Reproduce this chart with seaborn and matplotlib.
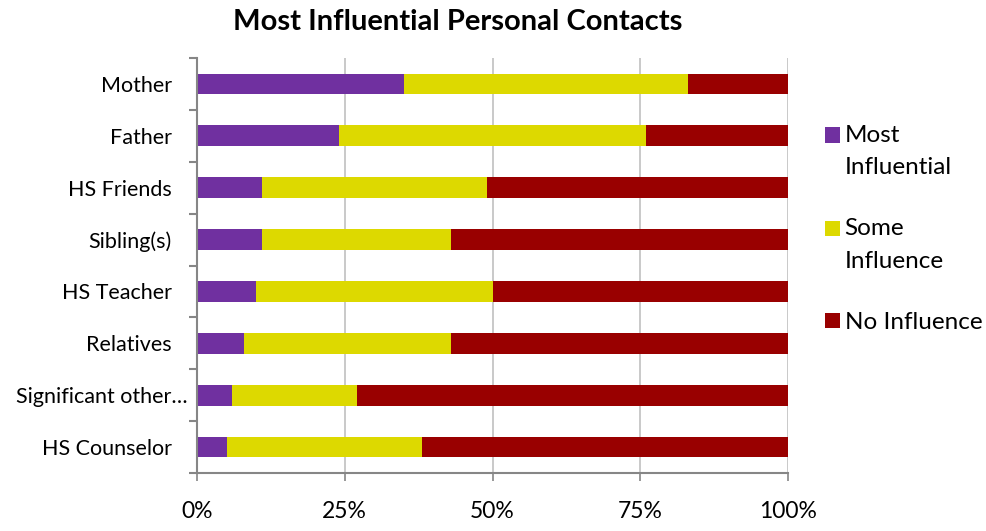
import numpy as np
import pandas as pd
import matplotlib
matplotlib.use("Agg")
import matplotlib.pyplot as plt
import seaborn as sns
from matplotlib.transforms import ScaledTranslation

# --- data (percent of respondents) ---
contacts = ["Mother", "Father", "HS Friends", "Sibling(s)", "HS Teacher",
            "Relatives", "Significant other…", "HS Counselor"]
most_influential = [35, 24, 11, 11, 10, 8, 6, 5]
some_influence = [48, 52, 38, 32, 40, 35, 21, 33]
no_influence = [17, 24, 51, 57, 50, 57, 73, 62]

series_names = ["Most\nInfluential", "Some\nInfluence", "No Influence"]
series_colors = ["#7030A0", "#DDD900", "#990000"]

sns.set_theme(style="white")
plt.rcParams["font.family"] = ["Lato", "DejaVu Sans"]
plt.rcParams["text.color"] = "black"

df = pd.DataFrame({
    "contact": contacts,
    "most": most_influential,
    "some": some_influence,
    "none": no_influence,
})
# cumulative ends so the layered bars look stacked
df["end_most"] = df["most"]
df["end_some"] = df["most"] + df["some"]
df["end_none"] = df["most"] + df["some"] + df["none"]

fig = plt.figure(figsize=(9.87, 5.31), dpi=100)
ax = fig.add_axes([197 / 987, 1 - 473 / 531, 591 / 987, 415 / 531])

# draw from the longest segment to the shortest
for col, color, name in [("end_none", series_colors[2], series_names[2]),
                         ("end_some", series_colors[1], series_names[1]),
                         ("end_most", series_colors[0], series_names[0])]:
    sns.barplot(data=df, y="contact", x=col, order=contacts, orient="h",
                color=color, width=0.4, saturation=1, label=name, ax=ax,
                edgecolor="none", linewidth=0, zorder=3)

ax.set_xlim(0, 100)
ax.set_ylim(7.5, -0.5)
ax.set_xticks([0, 25, 50, 75, 100])
ax.set_xticklabels(["0%", "25%", "50%", "75%", "100%"])
ax.set_xlabel("")
ax.set_ylabel("")

ax.grid(axis="x", color="#C0C0C0", linewidth=1.2, zorder=0)
ax.grid(axis="y", visible=False)
for s in ["top", "right"]:
    ax.spines[s].set_visible(False)
for s in ["left", "bottom"]:
    ax.spines[s].set_color("#868686")
    ax.spines[s].set_linewidth(1.5)
    ax.spines[s].set_zorder(4)

ax.tick_params(axis="x", which="major", length=6, width=1.2, color="#868686",
               direction="out", bottom=True, pad=14, labelsize=16.5, labelcolor="black")
ax.tick_params(axis="y", which="major", length=0, pad=18, labelsize=15.5, labelcolor="black")
ax.set_yticks(np.arange(-0.5, 8, 1), minor=True)
ax.tick_params(axis="y", which="minor", length=6, width=1.5, color="#868686",
               direction="out", left=True)

# the truncated label sits a bit further right, like in the original
for lab in ax.get_yticklabels():
    if lab.get_text().endswith("…"):
        lab.set_transform(lab.get_transform() + ScaledTranslation(11 / 72, 0, fig.dpi_scale_trans))

fig.text(458 / 987, 1 - 22 / 531, "Most Influential Personal Contacts",
         ha="center", va="center", fontsize=21, fontweight="bold")

handles, labels = ax.get_legend_handles_labels()
leg = ax.legend(handles[::-1], labels[::-1], loc="upper left",
                bbox_to_anchor=(815 / 987, 1 - 115 / 531), bbox_transform=fig.transFigure,
                frameon=False, fontsize=17.5, handlelength=0.62, handleheight=0.62,
                handletextpad=0.2, labelspacing=1.65, borderaxespad=0)
for txt in leg.get_texts():
    txt.set_linespacing(1.68)
# put the square next to the first line of a wrapped label
for patch, txt in zip(leg.legend_handles, leg.get_texts()):
    if "\n" in txt.get_text():
        patch.set_y(patch.get_y() + 12)

fig.savefig("out.png", dpi=100)
